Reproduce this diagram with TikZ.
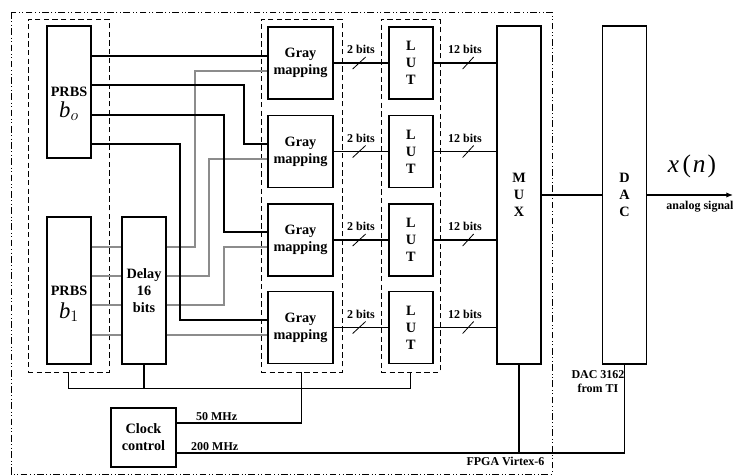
\documentclass[tikz,border=0pt]{standalone}
\usepackage{fontspec}
\setmainfont{Liberation Serif}
\usetikzlibrary{arrows.meta, positioning, calc}

\begin{document}
\begin{tikzpicture}[x=0.75pt, y=-0.75pt,
            blk/.style={draw, line width=1pt, inner sep=0pt, align=center, font=\fontsize{10.7}{12.8}\selectfont\bfseries},
            tall/.style={blk, minimum width=33pt, minimum height=253.5pt},
            gmap/.style={blk, minimum width=48.75pt, minimum height=54pt},
            lut/.style={blk, minimum width=33pt, minimum height=54pt},
            prbstxt/.style={font=\fontsize{10.7}{12.8}\selectfont\bfseries, align=center, inner sep=0pt},
            grp/.style={draw, line width=0.7pt, dash pattern=on 4pt off 2.5pt, minimum height=264.75pt},
            fpgabox/.style={line width=0.5pt, dash pattern=on 5pt off 2pt on 0.6pt off 2pt on 0.6pt off 2pt},
            wire/.style={draw, line width=0.9pt},
            gwire/.style={draw=black!45, line width=0.9pt},
            lbl/.style={font=\fontsize{9}{10.5}\selectfont\bfseries, inner sep=1pt, align=center}]
            \useasboundingbox (0,0) rectangle (733,475);
            % fpga frame and groups
            \draw[fpgabox] (11,12) rectangle (552,474);
            \node[grp, minimum width=60.75pt] (pgrp) at (68.5,195.5) {};
            \node[grp, minimum width=60.75pt] (ggrp) at (301.5,195.5) {};
            \node[grp, minimum width=44.25pt] (lgrp) at (410.5,195.5) {};
            % blocks
            \node[blk, minimum width=33pt, minimum height=99pt,
                label={[prbstxt, yshift=-9pt]center:PRBS\\[3pt]{\normalfont\fontsize{17}{17}\selectfont\textit{b}$_o$}}] (p0) at (69,92) {};
            \node[blk, minimum width=33pt, minimum height=110.25pt,
                label={[prbstxt, yshift=-10pt]center:PRBS\\[4pt]{\normalfont\fontsize{17}{17}\selectfont\textit{b}$_1$}}] (p1) at (69,290.5) {};
            \node[blk, minimum width=33pt, minimum height=110.25pt] (dly) at (144,290.5) {Delay\\16\\bits};
            \foreach \i/\yy in {1/63,2/151.5,3/240,4/327.5} {
                \node[gmap] (g\i) at (300.5,\yy) {Gray\\mapping};
                \node[lut] (l\i) at (411,\yy) {L\\U\\T};
            }
            \node[tall] (mux) at (519,195) {M\\U\\X};
            \node[tall] (dac) at (624.5,195) {D\\A\\C};
            \node[blk, minimum width=48.75pt, minimum height=44.25pt] (clk) at (143.5,437.5) {Clock\\control};
            % delayed stream
            \foreach \yy in {247,276,305,335}
                \draw[gwire] (p1.east |- 0,\yy) -- (dly.west |- 0,\yy);
            \draw[gwire] (dly.east |- 0,247) -| (195,71) -- (g1.west |- 0,71);
            \draw[gwire] (dly.east |- 0,276) -| (209,159) -- (g2.west |- 0,159);
            \draw[gwire] (dly.east |- 0,305) -| (224,247) -- (g3.west |- 0,247);
            \draw[gwire] (dly.east |- 0,335) -- (g4.west |- 0,335);
            % direct stream
            \draw[wire] (p0.east |- 0,56) -- (g1.west |- 0,56);
            \draw[wire] (p0.east |- 0,85) -| (244,144) -- (g2.west |- 0,144);
            \draw[wire] (p0.east |- 0,115) -| (224,232) -- (g3.west |- 0,232);
            \draw[wire] (p0.east |- 0,144) -| (180,320) -- (g4.west |- 0,320);
            % bit lanes
            \foreach \i in {1,...,4} {
                \draw[wire] (g\i) -- (l\i) node[lbl, midway, above=5.5pt] {2 bits};
                \draw[wire, line width=0.6pt] ($(g\i.east)+(19,6)$) -- ++(13,-12);
                \draw[wire] (l\i) -- (l\i -| mux.west) node[lbl, midway, above=5.5pt] {12 bits};
                \draw[wire, line width=0.6pt] ($(l\i.east)+(29,6)$) -- ++(11,-12);
            }
            \draw[wire] (mux) -- (dac);
            \coordinate (sig) at (733,195);
            \draw[wire, -{Latex[length=5pt, width=4pt]}] (dac.east) -- (sig);
            \node (xn) at (692,166) {\fontsize{19}{21}\selectfont\textit{x}\hspace{2.5pt}(\hspace{1.5pt}\textit{n}\hspace{1.5pt})};
            \node[lbl] (asig) at (700,207) {analog signal};
            % clocks
            \draw[wire] (pgrp.south) -- ++(0,16) -| (lgrp.south);
            \draw[wire] (dly.south) -- (dly.south |- 0,388);
            \draw[wire] (clk.east |- 0,423) -- node[lbl, pos=0.32, above=0pt] {50 MHz} (ggrp.south |- 0,423) -- (ggrp.south);
            \draw[wire] (clk.east |- 0,453) -- node[lbl, pos=0.085, above=0pt] {200 MHz} (dac.south |- 0,453) -- (dac.south);
            \draw[wire] (mux.south) -- (mux.south |- 0,453);
            \node[lbl] (daclbl) at (598,382) {DAC 3162\\from TI};
            \node[lbl, anchor=east] (fpgalbl) at (546,461) {FPGA Virtex-6};
        \end{tikzpicture}
\end{document}
